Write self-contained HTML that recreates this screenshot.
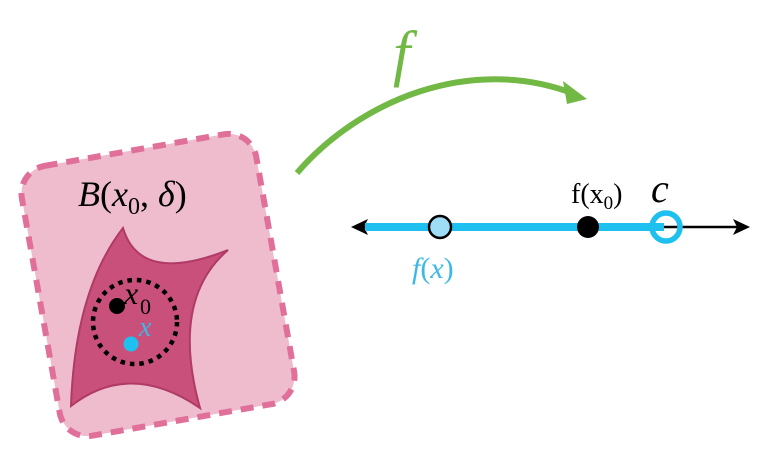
<!DOCTYPE html>
<html><head><meta charset="utf-8"><style>
html,body{margin:0;padding:0;background:#fff;width:768px;height:462px;overflow:hidden}
text{font-family:"Liberation Serif",serif}
</style></head><body>
<svg width="768" height="462" viewBox="0 0 768 462" xmlns="http://www.w3.org/2000/svg">
<g transform="rotate(-10 158 285)">
<rect x="39" y="148" width="238" height="274" rx="28" fill="#eebccc" stroke="#e0709a" stroke-width="6" stroke-dasharray="13 9"/>
</g>
<path d="M123,228 Q140,285 228,250 Q170,300 200,408 Q130,360 71,406 Q75,290 123,228 Z" fill="#c9507a" stroke="#b03a66" stroke-width="2"/>
<circle cx="135" cy="322" r="42" fill="none" stroke="#000" stroke-width="4.5" stroke-dasharray="4.5 5"/>
<circle cx="117" cy="306" r="8" fill="#000"/>
<circle cx="131" cy="344" r="7.5" fill="#1ec0f0"/>
<text x="124" y="304" font-style="italic" font-size="32" fill="#000">x</text>
<text x="140" y="314" font-size="22" fill="#000">0</text>
<text x="139" y="336" font-style="italic" font-size="28" fill="#3cb8e8">x</text>
<text x="78" y="206" font-size="36" fill="#000"><tspan font-style="italic">B</tspan>(<tspan font-style="italic">x</tspan><tspan font-size="24" dy="8">0</tspan><tspan dy="-8">, </tspan><tspan font-style="italic">δ</tspan>)</text>
<path d="M297,173 C360,100 470,55 572,93" fill="none" stroke="#72b845" stroke-width="6"/>
<polygon points="587,99 563,81 567,104" fill="#72b845"/>
<text x="393" y="74" font-style="italic" font-size="62" fill="#72b845">f</text>
<line x1="360" y1="227" x2="740" y2="227" stroke="#000" stroke-width="2.5"/>
<polygon points="351,227 368,219 364,227 368,235" fill="#000"/>
<polygon points="750,227 733,219 737,227 733,235" fill="#000"/>
<line x1="365" y1="227" x2="664" y2="227" stroke="#1ec0f0" stroke-width="8"/>
<circle cx="440" cy="227" r="11" fill="#9fdcf6" stroke="#000" stroke-width="2.5"/>
<circle cx="588" cy="227" r="11" fill="#000"/>
<circle cx="666" cy="227" r="14" fill="none" stroke="#1ec0f0" stroke-width="5.5"/>
<text x="412" y="278" font-size="30" fill="#3cb8e8"><tspan font-style="italic">f</tspan>(<tspan font-style="italic">x</tspan>)</text>
<text x="571" y="203" font-size="28" fill="#000">f(x<tspan font-size="19" dy="6">0</tspan><tspan dy="-6">)</tspan></text>
<text x="651" y="202" font-style="italic" font-size="40" fill="#000">c</text>
</svg>
</body></html>
